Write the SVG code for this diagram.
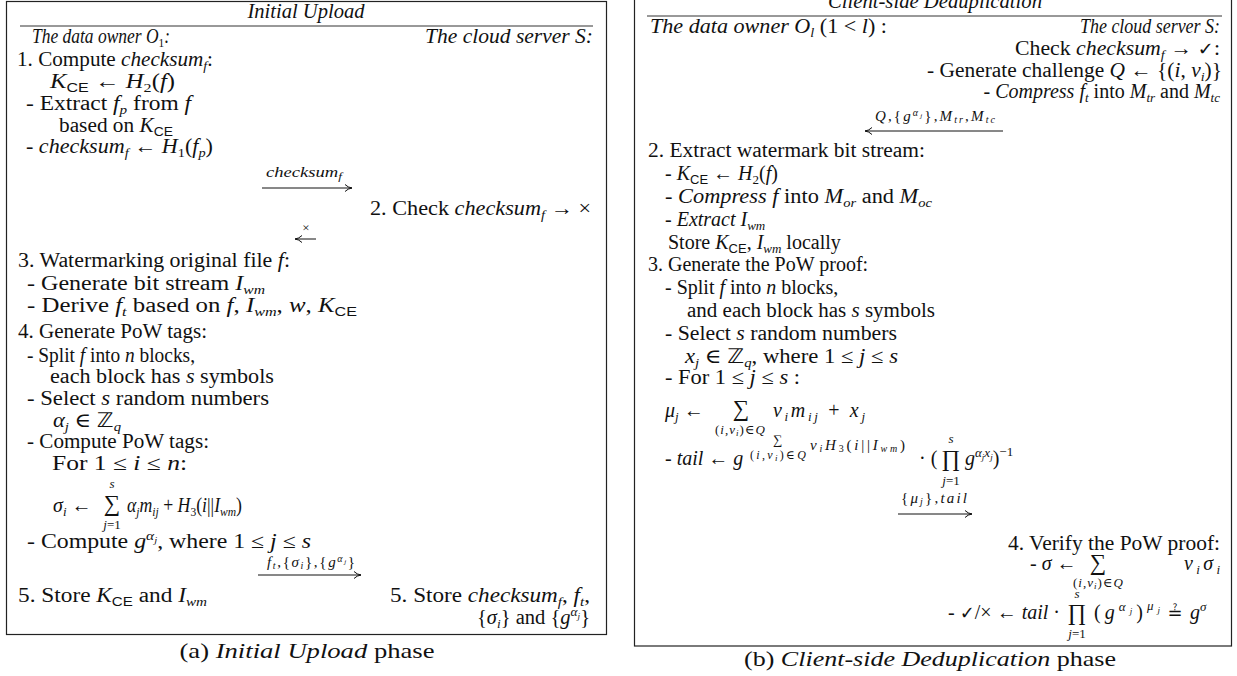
<svg xmlns="http://www.w3.org/2000/svg" width="1237" height="676" viewBox="0 0 1237 676">
<style>
.t{font-family:"Liberation Serif","DejaVu Serif",serif;font-size:20px;fill:#111}
.i{font-style:italic}
.n{font-style:normal}
.f15{font-size:15px}
.f14{font-size:14px}
.f13{font-size:13px}
.f12{font-size:12px}
.f11{font-size:11px}
.f10{font-size:10px}
.f9{font-size:9px}
.big{font-size:23px}
.sf{font-family:"Liberation Sans","DejaVu Sans",sans-serif;font-size:13px;font-style:normal}
.sym{font-family:"DejaVu Sans",sans-serif;font-style:normal}
.box{fill:#fff;stroke:#222;stroke-width:1.2}
.rule{stroke:#333;stroke-width:1}
.arr{stroke:#111;stroke-width:1;fill:none;marker-end:url(#ah)}
</style>
<defs>
<marker id="ah" viewBox="0 0 10 10" refX="9" refY="5" markerWidth="10" markerHeight="10" markerUnits="userSpaceOnUse" orient="auto"><path d="M2,1.5 Q5,4.5 9,5 Q5,5.5 2,8.5" fill="none" stroke="#111" stroke-width="1"/></marker>
</defs>
<rect width="1237" height="676" fill="#fff"/>

<g id="panel-a">
<rect class="box" x="6.5" y="1.5" width="600" height="633"/>
<text class="t i" x="306" y="18" text-anchor="middle" textLength="117" lengthAdjust="spacingAndGlyphs">Initial Upload</text>
<line class="rule" x1="20" y1="26" x2="593" y2="26"/>
</g>

<g id="a-owner">
<text class="t i" x="32" y="43" textLength="138" lengthAdjust="spacingAndGlyphs">The data owner O<tspan class="f13 n" dy="4">1</tspan><tspan dy="-4">:</tspan></text>
<text class="t" x="17" y="66" textLength="196" lengthAdjust="spacingAndGlyphs">1. Compute <tspan class="i">checksum</tspan><tspan class="i f13" dy="4">f</tspan><tspan dy="-4">:</tspan></text>
<text class="t" x="50" y="88" textLength="125" lengthAdjust="spacingAndGlyphs"><tspan class="i">K</tspan><tspan class="sf" dy="4">CE</tspan><tspan dy="-4"> ← </tspan><tspan class="i">H</tspan><tspan class="f13" dy="4">2</tspan><tspan dy="-4">(</tspan><tspan class="i">f</tspan>)</text>
<text class="t" x="26" y="110" textLength="165" lengthAdjust="spacingAndGlyphs">- Extract <tspan class="i">f</tspan><tspan class="i f13" dy="4">p</tspan><tspan dy="-4"> from </tspan><tspan class="i">f</tspan></text>
<text class="t" x="59" y="132" textLength="114" lengthAdjust="spacingAndGlyphs">based on <tspan class="i">K</tspan><tspan class="sf" dy="4">CE</tspan></text>
<text class="t" x="26" y="153" textLength="187" lengthAdjust="spacingAndGlyphs">- <tspan class="i">checksum</tspan><tspan class="i f13" dy="4">f</tspan><tspan dy="-4"> ← </tspan><tspan class="i">H</tspan><tspan class="f13" dy="4">1</tspan><tspan dy="-4">(</tspan><tspan class="i">f</tspan><tspan class="i f13" dy="4">p</tspan><tspan dy="-4">)</tspan></text>
</g>

<g id="a-server">
<text class="t i" x="593" y="43" text-anchor="end" textLength="168" lengthAdjust="spacingAndGlyphs">The cloud server S:</text>
<text class="t" x="591" y="215" text-anchor="end" textLength="221" lengthAdjust="spacingAndGlyphs">2. Check <tspan class="i">checksum</tspan><tspan class="i f13" dy="4">f</tspan><tspan dy="-4"> → ×</tspan></text>
</g>

<g id="a-owner-steps">
<text class="t" x="18" y="267" textLength="272" lengthAdjust="spacingAndGlyphs">3. Watermarking original file <tspan class="i">f</tspan>:</text>
<text class="t" x="27" y="290" textLength="238" lengthAdjust="spacingAndGlyphs">- Generate bit stream <tspan class="i">I</tspan><tspan class="i f13" dy="4">wm</tspan></text>
<text class="t" x="27" y="312" textLength="330" lengthAdjust="spacingAndGlyphs">- Derive <tspan class="i">f</tspan><tspan class="i f13" dy="4">t</tspan><tspan dy="-4"> based on </tspan><tspan class="i">f</tspan>, <tspan class="i">I</tspan><tspan class="i f13" dy="4">wm</tspan><tspan dy="-4">, </tspan><tspan class="i">w</tspan>, <tspan class="i">K</tspan><tspan class="sf" dy="4">CE</tspan></text>
<text class="t" x="18" y="338" textLength="189" lengthAdjust="spacingAndGlyphs">4. Generate PoW tags:</text>
<text class="t" x="27" y="362" textLength="168" lengthAdjust="spacingAndGlyphs">- Split <tspan class="i">f</tspan> into <tspan class="i">n</tspan> blocks,</text>
<text class="t" x="50" y="383" textLength="224" lengthAdjust="spacingAndGlyphs">each block has <tspan class="i">s</tspan> symbols</text>
<text class="t" x="27" y="405" textLength="242" lengthAdjust="spacingAndGlyphs">- Select <tspan class="i">s</tspan> random numbers</text>
<text class="t" x="53" y="427" textLength="68" lengthAdjust="spacingAndGlyphs"><tspan class="i">α</tspan><tspan class="i f13" dy="4">j</tspan><tspan dy="-4"> ∈ </tspan><tspan class="sym">ℤ</tspan><tspan class="i f13" dy="4">q</tspan></text>
<text class="t" x="27" y="448" textLength="182" lengthAdjust="spacingAndGlyphs">- Compute PoW tags:</text>
<text class="t" x="52" y="470" textLength="135" lengthAdjust="spacingAndGlyphs">For 1 ≤ <tspan class="i">i</tspan> ≤ <tspan class="i">n</tspan>:</text>
<text class="t i f13" x="112" y="488" text-anchor="middle">s</text>
<text class="t" x="53" y="512"><tspan class="i">σ</tspan><tspan class="i f13" dy="4">i</tspan><tspan dy="-4"> ←</tspan></text>
<text class="t big" x="112" y="511" text-anchor="middle">∑</text>
<text class="t f13" x="112" y="529" text-anchor="middle"><tspan class="i">j</tspan>=1</text>
<text class="t" x="127" y="512" textLength="115" lengthAdjust="spacingAndGlyphs"><tspan class="i">α</tspan><tspan class="i f13" dy="4">j</tspan><tspan class="i" dy="-4">m</tspan><tspan class="i f13" dy="4">ij</tspan><tspan dy="-4"> + </tspan><tspan class="i">H</tspan><tspan class="f13" dy="4">3</tspan><tspan dy="-4">(</tspan><tspan class="i">i</tspan>||<tspan class="i">I</tspan><tspan class="i f13" dy="4">wm</tspan><tspan dy="-4">)</tspan></text>
<text class="t" x="27" y="548" textLength="284" lengthAdjust="spacingAndGlyphs">- Compute <tspan class="i">g</tspan><tspan class="i f13" dy="-8">α</tspan><tspan class="i f9" dy="3">j</tspan><tspan dy="5">, where 1 ≤ </tspan><tspan class="i">j</tspan> ≤ <tspan class="i">s</tspan></text>
<text class="t" x="18" y="602" textLength="189" lengthAdjust="spacingAndGlyphs">5. Store <tspan class="i">K</tspan><tspan class="sf" dy="4">CE</tspan><tspan dy="-4"> and </tspan><tspan class="i">I</tspan><tspan class="i f13" dy="4">wm</tspan></text>
</g>

<g id="a-server-store">
<text class="t" x="590" y="602" text-anchor="end" textLength="200" lengthAdjust="spacingAndGlyphs">5. Store <tspan class="i">checksum</tspan><tspan class="i f13" dy="4">f</tspan><tspan dy="-4">, </tspan><tspan class="i">f</tspan><tspan class="i f13" dy="4">t</tspan><tspan dy="-4">,</tspan></text>
<text class="t" x="590" y="624" text-anchor="end" textLength="113" lengthAdjust="spacingAndGlyphs">{<tspan class="i">σ</tspan><tspan class="i f13" dy="4">i</tspan><tspan dy="-4">} and {</tspan><tspan class="i">g</tspan><tspan class="i f13" dy="-8">α</tspan><tspan class="i f9" dy="3">j</tspan><tspan dy="5">}</tspan></text>
</g>

<text id="caption-a" class="t" x="307" y="658" text-anchor="middle" style="font-size:22px" textLength="255" lengthAdjust="spacingAndGlyphs">(a) <tspan class="i">Initial Upload</tspan> phase</text>

<g id="panel-b">
<rect class="box" x="634.5" y="-20" width="597" height="666"/>
<text class="t i" x="935" y="8" text-anchor="middle" textLength="214" lengthAdjust="spacingAndGlyphs">Client-side Deduplication</text>
<line class="rule" x1="647" y1="16" x2="1222" y2="16"/>
</g>

<g id="b-server">
<text class="t i" x="1220" y="33" text-anchor="end" textLength="140" lengthAdjust="spacingAndGlyphs">The cloud server S:</text>
<text class="t" x="1220" y="55" text-anchor="end" textLength="205" lengthAdjust="spacingAndGlyphs">Check <tspan class="i">checksum</tspan><tspan class="i f13" dy="4">f</tspan><tspan dy="-4"> → </tspan><tspan class="sym" style="font-size:18px">✓</tspan>:</text>
<text class="t" x="1222" y="77" text-anchor="end" textLength="295" lengthAdjust="spacingAndGlyphs">- Generate challenge <tspan class="i">Q</tspan> ← {(<tspan class="i">i</tspan>, <tspan class="i">v</tspan><tspan class="i f13" dy="4">i</tspan><tspan dy="-4">)}</tspan></text>
<text class="t" x="1220" y="98" text-anchor="end">- <tspan class="i">Compress f</tspan><tspan class="i f13" dy="4">t</tspan><tspan dy="-4"> into </tspan><tspan class="i">M</tspan><tspan class="i f13" dy="4">tr</tspan><tspan dy="-4"> and </tspan><tspan class="i">M</tspan><tspan class="i f13" dy="4">tc</tspan></text>
</g>

<g id="b-owner">
<text class="t i" x="650" y="33" textLength="237" lengthAdjust="spacingAndGlyphs">The data owner O<tspan class="f13" dy="4">l</tspan><tspan dy="-4" class="n">  (1 &lt; </tspan>l<tspan class="n">) :</tspan></text>
<text class="t" x="648" y="157" textLength="277" lengthAdjust="spacingAndGlyphs">2. Extract watermark bit stream:</text>
<text class="t" x="665" y="180">- <tspan class="i">K</tspan><tspan class="sf" dy="4">CE</tspan><tspan dy="-4"> ← </tspan><tspan class="i">H</tspan><tspan class="f13" dy="4">2</tspan><tspan dy="-4">(</tspan><tspan class="i">f</tspan>)</text>
<text class="t" x="665" y="203" textLength="267" lengthAdjust="spacingAndGlyphs">- <tspan class="i">Compress f</tspan> into <tspan class="i">M</tspan><tspan class="i f13" dy="4">or</tspan><tspan dy="-4"> and </tspan><tspan class="i">M</tspan><tspan class="i f13" dy="4">oc</tspan></text>
<text class="t" x="665" y="226">- <tspan class="i">Extract I</tspan><tspan class="i f13" dy="4">wm</tspan></text>
<text class="t" x="668" y="249">Store <tspan class="i">K</tspan><tspan class="sf" dy="4">CE</tspan><tspan dy="-4">, </tspan><tspan class="i">I</tspan><tspan class="i f13" dy="4">wm</tspan><tspan dy="-4"> locally</tspan></text>
<text class="t" x="648" y="271">3. Generate the PoW proof:</text>
<text class="t" x="665" y="294">- Split <tspan class="i">f</tspan> into <tspan class="i">n</tspan> blocks,</text>
<text class="t" x="687" y="317" textLength="248" lengthAdjust="spacingAndGlyphs">and each block has <tspan class="i">s</tspan> symbols</text>
<text class="t" x="665" y="340" textLength="232" lengthAdjust="spacingAndGlyphs">- Select <tspan class="i">s</tspan> random numbers</text>
<text class="t" x="685" y="363" textLength="213" lengthAdjust="spacingAndGlyphs"><tspan class="i">x</tspan><tspan class="i f13" dy="4">j</tspan><tspan dy="-4"> ∈ </tspan><tspan class="sym">ℤ</tspan><tspan class="i f13" dy="4">q</tspan><tspan dy="-4">, where 1 ≤ </tspan><tspan class="i">j</tspan> ≤ <tspan class="i">s</tspan></text>
<text class="t" x="665" y="384" textLength="135" lengthAdjust="spacingAndGlyphs">- For 1 ≤ <tspan class="i">j</tspan> ≤ <tspan class="i">s</tspan> :</text>
<text class="t" x="665" y="417"><tspan class="i">μ</tspan><tspan class="i f13" dy="4">j</tspan><tspan dy="-4"> ←</tspan></text>
<text class="t big" x="741" y="416" text-anchor="middle">∑</text>
<text class="t f13" x="740" y="434" text-anchor="middle" textLength="50" lengthAdjust="spacing">(<tspan class="i">i</tspan>,<tspan class="i">v</tspan><tspan class="i f9" dy="2">i</tspan><tspan dy="-2">)∈</tspan><tspan class="i">Q</tspan></text>
<text class="t" x="773" y="417" textLength="92" lengthAdjust="spacing"><tspan class="i">v</tspan><tspan class="i f13" dy="4">i</tspan><tspan class="i" dy="-4">m</tspan><tspan class="i f13" dy="4">ij</tspan><tspan dy="-4"> + </tspan><tspan class="i">x</tspan><tspan class="i f13" dy="4">j</tspan></text>
<text class="t" x="665" y="465">- <tspan class="i">tail</tspan> ← <tspan class="i">g</tspan></text>
<text class="t f13" x="778" y="444" text-anchor="middle">∑</text>
<text class="t f12" x="778" y="459" text-anchor="middle" textLength="56" lengthAdjust="spacing">(<tspan class="i">i</tspan>,<tspan class="i">v</tspan><tspan class="i f9" dy="2">i</tspan><tspan dy="-2">)∈</tspan><tspan class="i">Q</tspan></text>
<text class="t f15" x="810" y="450" textLength="95" lengthAdjust="spacing"><tspan class="i">v</tspan><tspan class="i f10" dy="2">i</tspan><tspan class="i" dy="-2">H</tspan><tspan class="f10" dy="2">3</tspan><tspan dy="-2">(</tspan><tspan class="i">i</tspan>||<tspan class="i">I</tspan><tspan class="i f10" dy="2">wm</tspan><tspan dy="-2">)</tspan></text>
<text class="t" x="919" y="465">· (</text>
<text class="t i f13" x="951" y="443" text-anchor="middle">s</text>
<text class="t big" x="951" y="466" text-anchor="middle">∏</text>
<text class="t f13" x="951" y="485" text-anchor="middle"><tspan class="i">j</tspan>=1</text>
<text class="t" x="965" y="465"><tspan class="i">g</tspan><tspan class="i f13" dy="-8">α</tspan><tspan class="i f9" dy="3">j</tspan><tspan class="i f13" dy="-3">x</tspan><tspan class="i f9" dy="3">j</tspan><tspan dy="5">)</tspan><tspan class="f13" dy="-9">−1</tspan></text>
</g>

<g id="b-server-verify">
<text class="t" x="1220" y="550" text-anchor="end" textLength="212" lengthAdjust="spacingAndGlyphs">4. Verify the PoW proof:</text>
<text class="t" x="1030" y="570">- <tspan class="i">σ</tspan> ←</text>
<text class="t big" x="1098" y="570" text-anchor="middle">∑</text>
<text class="t f13" x="1098" y="587" text-anchor="middle" textLength="50" lengthAdjust="spacing">(<tspan class="i">i</tspan>,<tspan class="i">v</tspan><tspan class="i f9" dy="2">i</tspan><tspan dy="-2">)∈</tspan><tspan class="i">Q</tspan></text>
<text class="t" x="1220" y="570" text-anchor="end" textLength="36" lengthAdjust="spacing"><tspan class="i">v</tspan><tspan class="i f13" dy="4">i</tspan><tspan class="i" dy="-4">σ</tspan><tspan class="i f13" dy="4">i</tspan></text>
<text class="t" x="1060" y="619" text-anchor="end">- <tspan class="sym" style="font-size:18px">✓</tspan>/× ← <tspan class="i">tail</tspan> ·</text>
<text class="t i f13" x="1077" y="598" text-anchor="middle">s</text>
<text class="t big" x="1077" y="620" text-anchor="middle">∏</text>
<text class="t f13" x="1077" y="638" text-anchor="middle"><tspan class="i">j</tspan>=1</text>
<text class="t" x="1094" y="619" textLength="66" lengthAdjust="spacing">(<tspan class="i">g</tspan><tspan class="i f13" dy="-8">α</tspan><tspan class="i f9" dy="3">j</tspan><tspan dy="5">)</tspan><tspan class="i f13" dy="-9">μ</tspan><tspan class="i f9" dy="3">j</tspan></text>
<text class="t sym" x="1175" y="619" text-anchor="middle" style="font-size:18px">≟</text>
<text class="t" x="1190" y="619"><tspan class="i">g</tspan><tspan class="i f13" dy="-8">σ</tspan></text>
</g>

<text id="caption-b" class="t" x="930" y="666" text-anchor="middle" style="font-size:22px" textLength="372" lengthAdjust="spacingAndGlyphs">(b) <tspan class="i">Client-side Deduplication</tspan> phase</text>

<g id="connectors">
<text class="t i f14" x="304" y="177" text-anchor="middle" textLength="76" lengthAdjust="spacingAndGlyphs">checksum<tspan class="f10" dy="3">f</tspan></text>
<line class="arr" x1="262" y1="188" x2="352" y2="188"/>
<text class="t f13" x="306" y="232" text-anchor="middle">×</text>
<line class="arr" x1="316" y1="239" x2="295" y2="239"/>
<text class="t f15" x="311" y="567" text-anchor="middle" textLength="88" lengthAdjust="spacing"><tspan class="i">f</tspan><tspan class="i f10" dy="2">t</tspan><tspan dy="-2">,{</tspan><tspan class="i">σ</tspan><tspan class="i f10" dy="2">i</tspan><tspan dy="-2">},{</tspan><tspan class="i">g</tspan><tspan class="i f10" dy="-5">α</tspan><tspan class="i" style="font-size:7px" dy="2">j</tspan><tspan dy="3">}</tspan></text>
<line class="arr" x1="258" y1="575" x2="361" y2="575"/>
<text class="t f15" x="935" y="121" text-anchor="middle" textLength="120" lengthAdjust="spacing"><tspan class="i">Q</tspan>,{<tspan class="i">g</tspan><tspan class="i f10" dy="-5">α</tspan><tspan class="i" style="font-size:7px" dy="2">j</tspan><tspan dy="3">},</tspan><tspan class="i">M</tspan><tspan class="i f10" dy="2">tr</tspan><tspan dy="-2">,</tspan><tspan class="i">M</tspan><tspan class="i f10" dy="2">tc</tspan></text>
<line class="arr" x1="1003" y1="131" x2="865" y2="131"/>
<text class="t f15" x="934" y="503" text-anchor="middle" textLength="66" lengthAdjust="spacing"><tspan>{</tspan><tspan class="i">μ</tspan><tspan class="i f10" dy="2">j</tspan><tspan dy="-2">},</tspan><tspan class="i">tail</tspan></text>
<line class="arr" x1="898" y1="514" x2="972" y2="514"/>
</g>
</svg>
